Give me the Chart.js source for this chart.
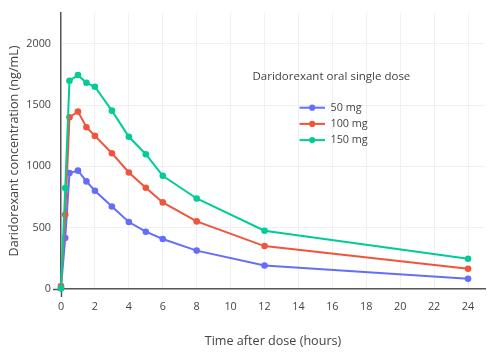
<!DOCTYPE html>
<html>
<head>
<meta charset="utf-8">
<script src="https://cdn.jsdelivr.net/npm/chart.js@4.4.1/dist/chart.umd.min.js"></script>
<style>
html,body{margin:0;padding:0;background:#fff;}
#wrap{width:500px;height:357px;position:relative;}
</style>
</head>
<body>
<div id="wrap"><canvas id="c" width="500" height="357"></canvas></div>
<script>
const hours = [0, 0.25, 0.5, 1, 1.5, 2, 3, 4, 5, 6, 8, 12, 24];
const dose50 = [10, 416, 945, 965, 877, 801, 673, 546, 467, 408, 313, 191, 83];
const dose100 = [25, 606, 1400, 1446, 1319, 1248, 1107, 950, 825, 706, 551, 350, 165];
const dose150 = [5, 823, 1698, 1744, 1681, 1649, 1454, 1241, 1099, 923, 738, 475, 246];
const seriesNames = ['50 mg', '100 mg', '150 mg'];
const xTickValues = [0, 2, 4, 6, 8, 10, 12, 14, 16, 18, 20, 22, 24];
const yTickValues = [0, 500, 1000, 1500, 2000];
const legendTitle = 'Daridorexant oral single dose';
const xTitle = 'Time after dose (hours)';
const yTitle = 'Daridorexant concentration (ng/mL)';

const colors = ['#636efa', '#EF553B', '#00cc96'];
const FONT = '"Open Sans", "Noto Sans", sans-serif';

function pts(vals){ return hours.map((h,i)=>({x:h, y:vals[i]})); }
const allSeries = [dose50, dose100, dose150];

const datasets = allSeries.map((vals, i) => ({
  label: seriesNames[i],
  data: pts(vals),
  borderColor: colors[i],
  backgroundColor: colors[i],
  borderWidth: 2,
  pointRadius: 3.3,
  pointBorderWidth: 0,
  pointHoverRadius: 3.3,
  tension: 0,
  clip: false,
  order: 2 - i
}));

const legendPlugin = {
  id: 'customLegend',
  afterDraw(chart) {
    const ctx = chart.ctx;
    ctx.save();
    ctx.font = '11.5px ' + FONT;
    ctx.fillStyle = '#444';
    ctx.textBaseline = 'middle';
    ctx.textAlign = 'left';
    ctx.fillText(legendTitle, 252.5, 77);
    ctx.font = '10.8px ' + FONT;
    const y0 = 107.7, dy = 16.2;
    chart.data.datasets.forEach((ds, i) => {
      const y = y0 + i * dy;
      ctx.strokeStyle = ds.borderColor;
      ctx.lineWidth = 2;
      ctx.beginPath();
      ctx.moveTo(299.5, y);
      ctx.lineTo(325, y);
      ctx.stroke();
      ctx.fillStyle = ds.borderColor;
      ctx.beginPath();
      ctx.arc(312.2, y, 3.1, 0, Math.PI * 2);
      ctx.fill();
      ctx.fillStyle = '#444';
      ctx.fillText(ds.label, 330.5, y);
    });
    ctx.restore();
  }
};

function gridColor(ctx){ return (ctx.tick && ctx.tick.value === 0) ? 'rgba(0,0,0,0)' : '#eef0f4'; }
function tickColor(ctx){ return (ctx.tick && ctx.tick.value === 0) ? '#555' : 'rgba(0,0,0,0)'; }
function plainLabel(v){ return String(v); }

new Chart(document.getElementById('c'), {
  type: 'line',
  data: { datasets },
  plugins: [legendPlugin],
  options: {
    responsive: false,
    animation: false,
    layout: { padding: { top: 13, right: 15, left: 0, bottom: 0 } },
    plugins: { legend: { display: false }, tooltip: { enabled: false } },
    scales: {
      x: {
        type: 'linear',
        min: 0,
        max: 25,
        afterBuildTicks(scale) { scale.ticks = xTickValues.map(v => ({ value: v })); },
        afterFit(scale) { scale.height = 68; },
        ticks: {
          color: '#444',
          font: { family: FONT, size: 10.8 },
          padding: 3,
          maxRotation: 0,
          autoSkip: false,
          callback: plainLabel
        },
        grid: {
          color: gridColor,
          lineWidth: 1,
          drawTicks: true,
          tickLength: 8,
          tickColor: tickColor,
          tickWidth: 1.5
        },
        border: { display: true, color: '#555', width: 1.5 },
        title: {
          display: true,
          text: xTitle,
          color: '#444',
          font: { family: FONT, size: 12.6 },
          padding: { top: 0, bottom: 8 }
        }
      },
      y: {
        type: 'linear',
        min: 0,
        max: 2250,
        afterBuildTicks(scale) { scale.ticks = yTickValues.map(v => ({ value: v })); },
        afterFit(scale) { scale.width = 61; },
        ticks: {
          color: '#444',
          font: { family: FONT, size: 10.8 },
          padding: 2,
          autoSkip: false,
          callback: plainLabel
        },
        grid: {
          color: gridColor,
          lineWidth: 1,
          drawTicks: true,
          tickLength: 8,
          tickColor: tickColor,
          tickWidth: 1.5
        },
        border: { display: true, color: '#555', width: 1.5 },
        title: {
          display: true,
          text: yTitle,
          color: '#444',
          font: { family: FONT, size: 12.6 },
          padding: { top: 7, bottom: 0 }
        }
      }
    }
  }
});
</script>
</body>
</html>
